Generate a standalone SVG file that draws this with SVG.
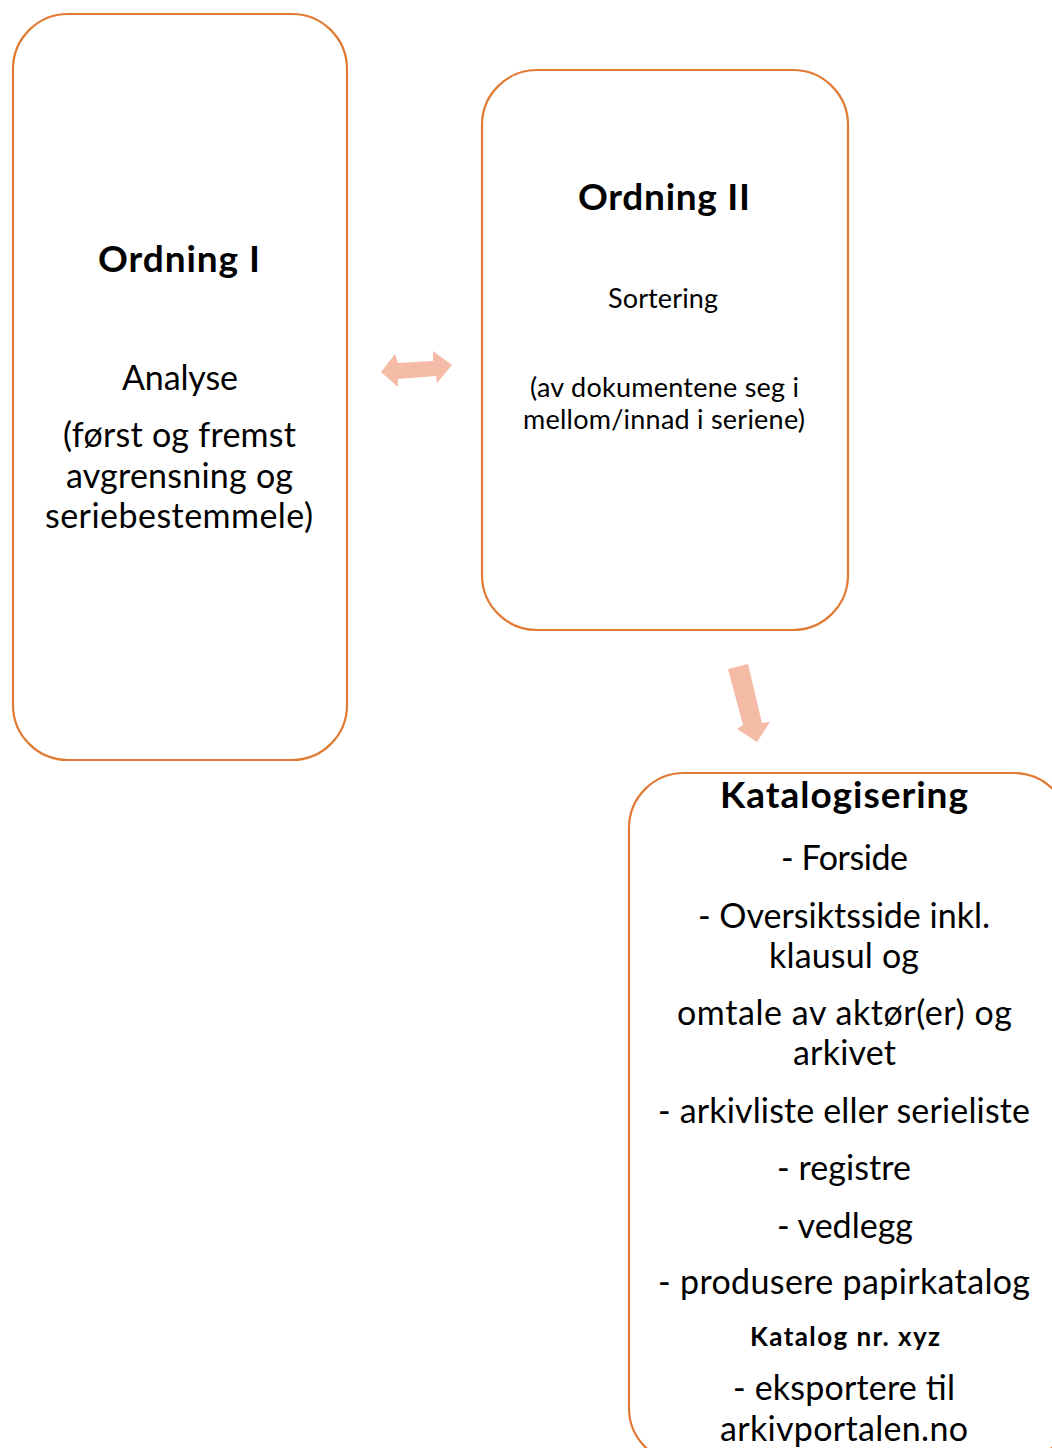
<svg xmlns="http://www.w3.org/2000/svg" width="1052" height="1448" viewBox="0 0 1052 1448">
<style>
.box{fill:#fff;stroke:#E07A35;stroke-width:2.2}
.arr{fill:#F4BBA6}
text{font-family:Lato,"Liberation Sans",sans-serif;fill:#000;text-anchor:middle}
.h{font-weight:bold;font-size:37px}
.m{font-size:34px}
.s{font-size:27px}
.sb{font-size:26px;font-weight:bold}
</style>
<rect width="1052" height="1448" fill="#fff"/>
<g id="connectors">
<polygon class="arr" points="381,372 395,354 398,363 433,361 433,351 452,365 437,383 436,376 398,379 398,387"/>
<polygon class="arr" points="728,669 748,664 762,723 770,722 757,742 737,729 743,725"/>
</g>
<g id="ordning1">
<rect class="box" x="13" y="14" width="334" height="746" rx="55"/>
<text class="h" x="179" y="272" textLength="162">Ordning I</text>
<text class="m" x="180" y="390" textLength="116">Analyse</text>
<text class="m" x="179.5" y="447" textLength="233">(først og fremst</text>
<text class="m" x="179.5" y="488" textLength="227">avgrensning og</text>
<text class="m" x="179" y="528" textLength="268">seriebestemmele)</text>
</g>
<g id="ordning2">
<rect class="box" x="482" y="70" width="366" height="560" rx="55"/>
<text class="h" x="664" y="210" textLength="172">Ordning II</text>
<text class="s" x="663" y="308" textLength="110">Sortering</text>
<text class="s" x="664.5" y="397" textLength="269">(av dokumentene seg i</text>
<text class="s" x="664" y="429" textLength="282">mellom/innad i seriene)</text>
</g>
<g id="katalogisering">
<rect class="box" x="629" y="773" width="440" height="690" rx="55"/>
<text class="h" x="844" y="808" textLength="248">Katalogisering</text>
<text class="m" x="844.5" y="870" textLength="127">- Forside</text>
<text class="m" x="844" y="928" textLength="292">- Oversiktsside inkl.</text>
<text class="m" x="844" y="968" textLength="150">klausul og</text>
<text class="m" x="844.5" y="1025" textLength="335">omtale av aktør(er) og</text>
<text class="m" x="844.5" y="1065" textLength="103">arkivet</text>
<text class="m" x="844" y="1123" textLength="372">- arkivliste eller serieliste</text>
<text class="m" x="844" y="1180" textLength="134">- registre</text>
<text class="m" x="845" y="1238" textLength="136">- vedlegg</text>
<text class="m" x="844" y="1294" textLength="372">- produsere papirkatalog</text>
<text class="sb" x="845" y="1346" textLength="190">Katalog nr. xyz</text>
<text class="m" x="844" y="1400" textLength="222">- eksportere til</text>
<text class="m" x="844" y="1441" textLength="248">arkivportalen.no</text>
</g>
</svg>
